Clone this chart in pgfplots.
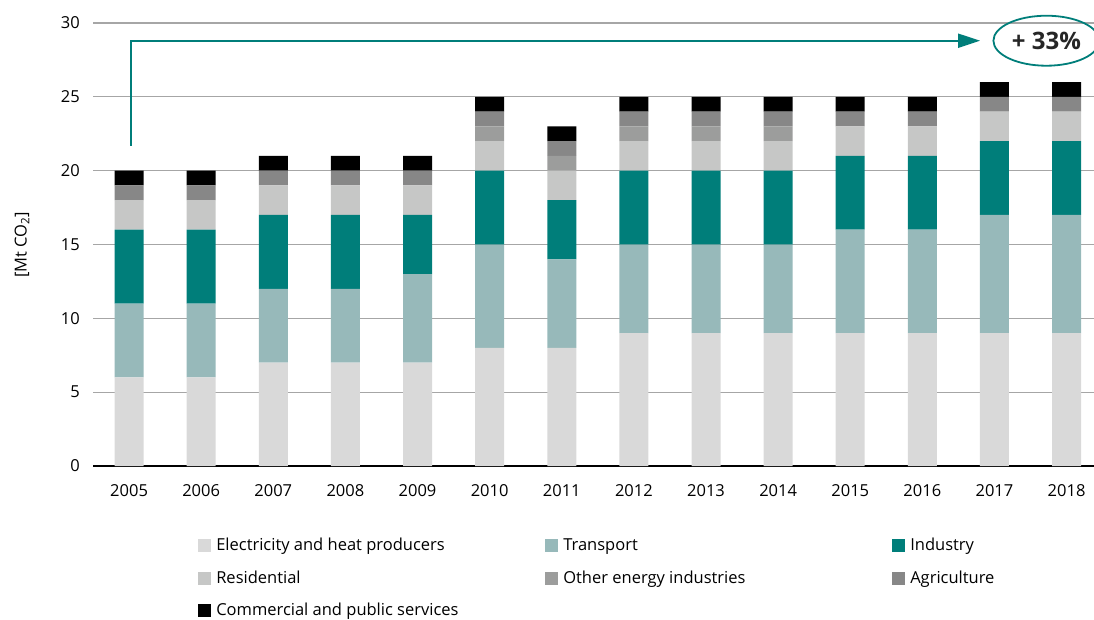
\documentclass[border=0pt]{standalone}
\usepackage{fontspec}
\setmainfont{Open Sans}
\usepackage{pgfplots}
\pgfplotsset{compat=1.18}
\usetikzlibrary{arrows.meta}

\definecolor{celec}{HTML}{D9D9D9}
\definecolor{ctrans}{HTML}{97B9BA}
\definecolor{cind}{HTML}{007E7A}
\definecolor{cres}{HTML}{C6C7C6}
\definecolor{coth}{HTML}{9C9D9C}
\definecolor{cagr}{HTML}{878787}
\definecolor{ccom}{HTML}{000000}
\definecolor{cgrid}{HTML}{A6A6A6}

\newcommand\lent[1]{\makebox[329pt][l]{#1}}

\pgfplotsset{
  sq/.style={fill=#1, draw=none,
    legend image code/.code={\fill[fill=#1] (0pt,-1.5pt) rectangle (13pt,11.5pt);}},
}

\begin{document}
\fontsize{16.5pt}{19pt}\selectfont
\begin{tikzpicture}[x=1pt,y=1pt]
\useasboundingbox (0,0) rectangle (1094,619);
\begin{axis}[
  at={(93pt,153pt)}, anchor=south west,
  scale only axis, width=1001pt, height=443pt,
  ybar stacked, bar width=29pt,
  xmin=-0.5, xmax=13.38, ymin=0, ymax=30,
  xtick={0,...,13},
  xticklabels={2005,2006,2007,2008,2009,2010,2011,2012,2013,2014,2015,2016,2017,2018},
  ytick={0,5,10,15,20,25,30},
  axis lines*=left,
  y axis line style={draw=none},
  x axis line style={black, line width=1.4pt},
  major tick length=0pt,
  ymajorgrids,
  grid style={cgrid, line width=1.2pt},
  tick label style={font=\fontsize{16.5pt}{19pt}\selectfont},
  /pgf/number format/assume math mode=true,
  xticklabel style={yshift=-12.5pt},
  yticklabel style={xshift=-7.5pt},
  clip=false,
  legend columns=3,
  legend style={at={(0.105,-0.1625)}, anchor=north west, draw=none,
    inner sep=0pt, row sep=17.5pt,
    nodes={inner sep=0pt, anchor=base west},
    /tikz/every odd column/.append style={column sep=5pt},
    font=\fontsize{16.5pt}{19pt}\selectfont},
]
\addplot[sq=celec] coordinates {(0,6) (1,6) (2,7) (3,7) (4,7) (5,8) (6,8) (7,9) (8,9) (9,9) (10,9) (11,9) (12,9) (13,9)};
\addlegendentry{\lent{Electricity and heat producers}}
\addplot[sq=ctrans] coordinates {(0,5) (1,5) (2,5) (3,5) (4,6) (5,7) (6,6) (7,6) (8,6) (9,6) (10,7) (11,7) (12,8) (13,8)};
\addlegendentry{\lent{Transport}}
\addplot[sq=cind] coordinates {(0,5) (1,5) (2,5) (3,5) (4,4) (5,5) (6,4) (7,5) (8,5) (9,5) (10,5) (11,5) (12,5) (13,5)};
\addlegendentry{Industry}
\addplot[sq=cres] coordinates {(0,2) (1,2) (2,2) (3,2) (4,2) (5,2) (6,2) (7,2) (8,2) (9,2) (10,2) (11,2) (12,2) (13,2)};
\addlegendentry{\lent{Residential}}
\addplot[sq=coth] coordinates {(0,0) (1,0) (2,0) (3,0) (4,0) (5,1) (6,1) (7,1) (8,1) (9,1) (10,0) (11,0) (12,0) (13,0)};
\addlegendentry{\lent{Other energy industries}}
\addplot[sq=cagr] coordinates {(0,1) (1,1) (2,1) (3,1) (4,1) (5,1) (6,1) (7,1) (8,1) (9,1) (10,1) (11,1) (12,1) (13,1)};
\addlegendentry{Agriculture}
\addplot[sq=ccom] coordinates {(0,1) (1,1) (2,1) (3,1) (4,1) (5,1) (6,1) (7,1) (8,1) (9,1) (10,1) (11,1) (12,1) (13,1)};
\addlegendentry{\lent{Commercial and public services}}

% growth arrow and label
\draw[cind, line width=2pt, -{Triangle[length=22pt,width=14pt]}]
  (axis cs:0.03,21.7) |- (axis cs:11.8,28.8);
\draw[cind, line width=1.8pt] (axis cs:12.72,28.8) ellipse [x radius=53pt, y radius=25pt];
\node[font=\bfseries\fontsize{24pt}{27pt}\selectfont, text=black!85] at (axis cs:12.72,28.8) {+ 33\%};
\end{axis}
\node[rotate=90] at (22,374) {[Mt CO\textsubscript{2}]};
\end{tikzpicture}
\end{document}
